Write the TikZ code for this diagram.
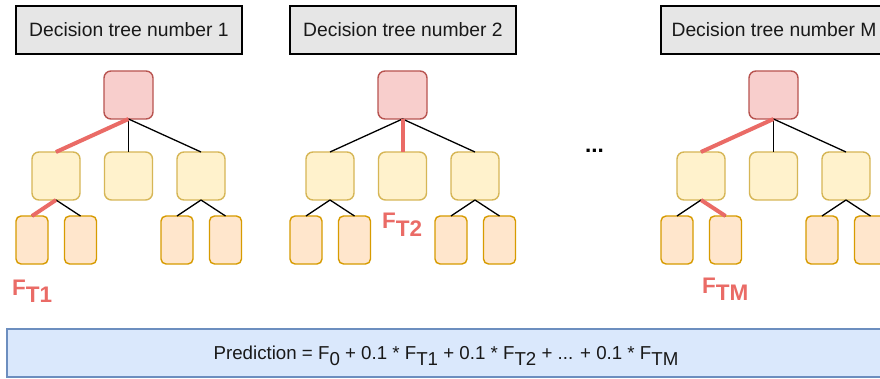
\documentclass[tikz,border=0pt]{standalone}
\usepackage{fontspec}
\setmainfont{Liberation Sans}
\definecolor{titlegray}{HTML}{E6E6E6}
\definecolor{rootfill}{HTML}{F8CECC}
\definecolor{rootdraw}{HTML}{B85450}
\definecolor{midfill}{HTML}{FFF2CC}
\definecolor{middraw}{HTML}{D6B656}
\definecolor{leaffill}{HTML}{FFE6CC}
\definecolor{leafdraw}{HTML}{D79B00}
\definecolor{hl}{HTML}{EA6B66}
\definecolor{predfill}{HTML}{DAE8FC}
\definecolor{preddraw}{HTML}{6C8EBF}
\newcommand\plainsub[1]{\raisebox{-5.7pt}{#1}}
\newcommand\boldsub[1]{\raisebox{-7.2pt}{#1}}
\tikzset{
  titlebox/.style={draw=black, fill=titlegray, line width=1.4pt, minimum width=226pt,
    minimum height=48pt, inner sep=0pt, outer sep=0pt,
    font=\fontsize{19.3}{22}\selectfont, text=black!90},
  rootbox/.style={draw=rootdraw, fill=rootfill, line width=1.4pt, rounded corners=7pt,
    minimum width=49pt, minimum height=48pt, inner sep=0pt, outer sep=0pt},
  midbox/.style={draw=middraw, fill=midfill, line width=1.4pt, rounded corners=7pt,
    minimum width=48pt, minimum height=48pt, inner sep=0pt, outer sep=0pt},
  leafbox/.style={draw=leafdraw, fill=leaffill, line width=1.4pt, rounded corners=5pt,
    minimum width=32pt, minimum height=48pt, inner sep=0pt, outer sep=0pt},
  edge/.style={draw=black, line width=1.3pt},
  hledge/.style={draw=hl, line width=4pt},
  flabel/.style={text=hl, font=\fontsize{22.5}{26}\selectfont\bfseries, inner sep=0pt, anchor=base west},
  predbox/.style={draw=preddraw, fill=predfill, line width=1.4pt, inner sep=0pt, outer sep=0pt},
}
\begin{document}
\begin{tikzpicture}[x=1pt, y=-1pt]
\clip (0,0) rectangle (880,379);
\fill[white] (0,0) rectangle (880,379);

% three trees, shifted horizontally
\foreach \k/\dx/\tag in {1/0/1, 2/274/2, 3/645/M} {
  \begin{scope}[xshift=\dx pt]
    \node[titlebox] (t\k) at (129,30) {Decision tree number \tag};
    \node[rootbox] (r\k) at (128.5,95) {};
    \node[midbox] (ma\k) at (56,176) {};
    \node[midbox] (mb\k) at (128.5,176) {};
    \node[midbox] (mc\k) at (201,176) {};
    \node[leafbox] (la\k) at (32,240) {};
    \node[leafbox] (lb\k) at (80.5,240) {};
    \node[leafbox] (lc\k) at (177,240) {};
    \node[leafbox] (ld\k) at (225.5,240) {};
  \end{scope}
  \draw[edge] (r\k.south) -- (ma\k.north);
  \draw[edge] (r\k.south) -- (mb\k.north);
  \draw[edge] (r\k.south) -- (mc\k.north);
  \draw[edge] (ma\k.south) -- (la\k.north);
  \draw[edge] (ma\k.south) -- (lb\k.north);
  \draw[edge] (mc\k.south) -- (lc\k.north);
  \draw[edge] (mc\k.south) -- (ld\k.north);
}

% decision paths
\draw[hledge] (r1.south) -- (ma1.north);
\draw[hledge] (ma1.south) -- (la1.north);
\draw[hledge] (r2.south) -- (mb2.north);
\draw[hledge] (r3.south) -- (ma3.north);
\draw[hledge] (ma3.south) -- (lb3.north);

% leaf values
\node[flabel] (f1) at (12,295) {F\boldsub{T1}};
\node[flabel] (f2) at (382,229) {F\boldsub{T2}};
\node[flabel] (fm) at (702,293) {F\boldsub{TM}};

\node[font=\fontsize{22.5}{26}\selectfont\bfseries, inner sep=0pt, anchor=base] (dots) at (594.5,153) {...};

% ensemble prediction
\node[predbox, minimum width=878pt, minimum height=48pt] (pred) at (446,353) {};
\node[font=\fontsize{18.7}{22}\selectfont, inner sep=0pt, anchor=base, text=black!90] (ptext) at (446,359.3)
  {Prediction = F\plainsub{0} + 0.1 * F\plainsub{T1} + 0.1 * F\plainsub{T2} + ... + 0.1 * F\plainsub{TM}};
\end{tikzpicture}
\end{document}
